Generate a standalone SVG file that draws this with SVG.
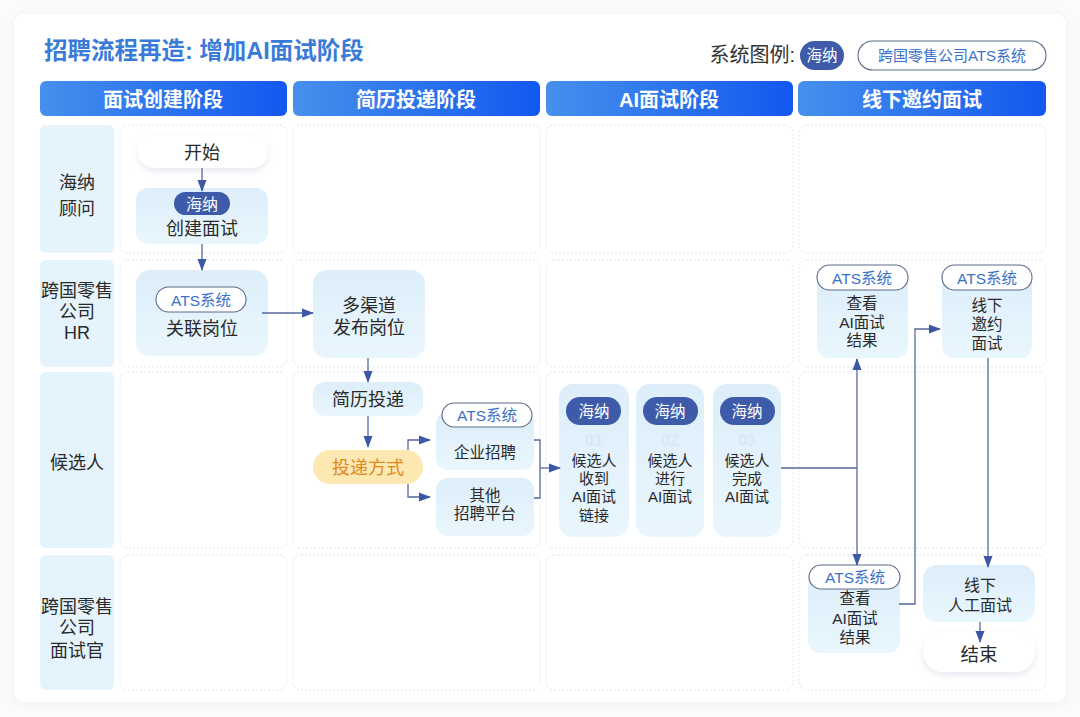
<svg xmlns="http://www.w3.org/2000/svg" width="1080" height="717" viewBox="0 0 1080 717">
<defs>
<style>
.t{font-family:"Liberation Sans","Noto Sans CJK SC",sans-serif;fill:#2a2a2a;text-anchor:middle}
.n{font-size:18px}
.s{font-size:15.5px}
.x{font-size:15px}
.lane{font-size:18px}
.hd{font-size:20px;font-weight:bold;fill:#ffffff}
.bh{font-size:16px;fill:#ffffff}
.bhs{font-size:15.5px;fill:#ffffff}
.ba{font-size:15.5px;fill:#3b72c9}
.num{font-size:16px;font-weight:bold;fill:#dce8f3}
.cell{fill:#ffffff;stroke:#dfe5ee;stroke-width:1;stroke-dasharray:2 2}
.lc{fill:#e4f3fc}
.node{fill:url(#ng)}
.hn{fill:#3e5ba9}
.ats{fill:#ffffff;stroke:#5d6c8c;stroke-width:1.1}
.wp{fill:#ffffff;filter:url(#sh)}
.c{fill:none;stroke:#56679f;stroke-width:1.3}
</style>
<linearGradient id="hg" x1="0" y1="0" x2="1" y2="0">
<stop offset="0" stop-color="#4690ec"/>
<stop offset="1" stop-color="#1358ef"/>
</linearGradient>
<linearGradient id="ng" x1="0" y1="0" x2="0" y2="1">
<stop offset="0" stop-color="#ddeefa"/>
<stop offset="1" stop-color="#e9f6fd"/>
</linearGradient>
<filter id="sh" x="-20%" y="-30%" width="140%" height="170%">
<feDropShadow dx="0" dy="3" stdDeviation="3" flood-color="#9aa8c0" flood-opacity="0.25"/>
</filter>
<filter id="cs" x="-5%" y="-5%" width="110%" height="110%">
<feDropShadow dx="0" dy="1" stdDeviation="4" flood-color="#a8b4c8" flood-opacity="0.2"/>
</filter>
<marker id="ar" viewBox="0 0 12 10" refX="11" refY="5" markerWidth="12" markerHeight="10" markerUnits="userSpaceOnUse" orient="auto">
<path d="M0,0.5 L12,5 L0,9.5 Z" fill="#3d57a6"/>
</marker>
</defs>
<rect x="0" y="0" width="1080" height="717" fill="#fafbfc"/>
<rect x="14" y="14" width="1052" height="688" rx="10" fill="#ffffff" filter="url(#cs)"/>

<g id="title">
<text x="44" y="59" style="font-family:'Liberation Sans','Noto Sans CJK SC',sans-serif;font-size:23.5px;font-weight:bold;fill:#3a7bd8">招聘流程再造: 增加AI面试阶段</text>
</g>
<g id="legend">
<text x="795" y="62" class="t" style="font-size:20px;text-anchor:end;fill:#333">系统图例:</text>
<rect x="800" y="41" width="44" height="29" rx="14.5" class="hn"/>
<text x="822" y="61" class="t bhs">海纳</text>
<rect x="858" y="41" width="188" height="29" rx="14.5" class="ats"/>
<text x="952" y="61" class="t ba" style="font-size:15px">跨国零售公司ATS系统</text>
</g>

<g id="headers">
<rect x="40" y="81" width="247" height="35" rx="6" fill="url(#hg)"/>
<text x="163" y="107" class="t hd">面试创建阶段</text>
<rect x="293" y="81" width="247" height="35" rx="6" fill="url(#hg)"/>
<text x="416" y="107" class="t hd">简历投递阶段</text>
<rect x="546" y="81" width="247" height="35" rx="6" fill="url(#hg)"/>
<text x="669" y="107" class="t hd">AI面试阶段</text>
<rect x="798" y="81" width="248" height="35" rx="6" fill="url(#hg)"/>
<text x="922" y="107" class="t hd">线下邀约面试</text>
</g>

<g id="lanes">
<rect x="40" y="125" width="74" height="128" rx="6" class="lc"/>
<text class="t lane"><tspan x="77" y="189">海纳</tspan><tspan x="77" y="215">顾问</tspan></text>
<rect x="40" y="260" width="74" height="107" rx="6" class="lc"/>
<text class="t lane"><tspan x="77" y="297">跨国零售</tspan><tspan x="77" y="318">公司</tspan><tspan x="77" y="339">HR</tspan></text>
<rect x="40" y="372" width="74" height="176" rx="6" class="lc"/>
<text x="77" y="469" class="t lane">候选人</text>
<rect x="40" y="555" width="74" height="135" rx="6" class="lc"/>
<text class="t lane"><tspan x="77" y="613">跨国零售</tspan><tspan x="77" y="634">公司</tspan><tspan x="77" y="657">面试官</tspan></text>
</g>

<g id="cells">
<rect x="120" y="125" width="167" height="128" rx="8" class="cell"/>
<rect x="293" y="125" width="247" height="128" rx="8" class="cell"/>
<rect x="546" y="125" width="247" height="128" rx="8" class="cell"/>
<rect x="799" y="125" width="247" height="128" rx="8" class="cell"/>
<rect x="120" y="260" width="167" height="107" rx="8" class="cell"/>
<rect x="293" y="260" width="247" height="107" rx="8" class="cell"/>
<rect x="546" y="260" width="247" height="107" rx="8" class="cell"/>
<rect x="799" y="260" width="247" height="107" rx="8" class="cell"/>
<rect x="120" y="372" width="167" height="176" rx="8" class="cell"/>
<rect x="293" y="372" width="247" height="176" rx="8" class="cell"/>
<rect x="546" y="372" width="247" height="176" rx="8" class="cell"/>
<rect x="799" y="372" width="247" height="176" rx="8" class="cell"/>
<rect x="120" y="555" width="167" height="135" rx="8" class="cell"/>
<rect x="293" y="555" width="247" height="135" rx="8" class="cell"/>
<rect x="546" y="555" width="247" height="135" rx="8" class="cell"/>
<rect x="799" y="555" width="247" height="135" rx="8" class="cell"/>
</g>

<g id="n-start">
<rect x="138" y="136" width="130" height="32" rx="16" class="wp"/>
<text x="202" y="158.5" class="t n">开始</text>
</g>
<g id="n-create">
<rect x="136" y="188" width="132" height="56" rx="12" class="node"/>
<rect x="174" y="192" width="56" height="23" rx="11.5" class="hn"/>
<text x="202" y="209.5" class="t bh">海纳</text>
<text x="202" y="234.5" class="t n">创建面试</text>
</g>
<g id="n-link">
<rect x="136" y="270" width="132" height="86" rx="14" class="node"/>
<rect x="156" y="287" width="90" height="25" rx="12.5" class="ats"/>
<text x="201" y="305.5" class="t ba">ATS系统</text>
<text x="202" y="334.5" class="t n">关联岗位</text>
</g>
<g id="n-publish">
<rect x="313" y="270" width="112" height="88" rx="14" class="node"/>
<text class="t n"><tspan x="369" y="311.5">多渠道</tspan><tspan x="369" y="333.5">发布岗位</tspan></text>
</g>
<g id="n-resume">
<rect x="313" y="382" width="110" height="34" rx="12" class="node"/>
<text x="368" y="406" class="t n">简历投递</text>
</g>
<g id="n-way">
<rect x="313" y="450" width="110" height="34" rx="17" fill="#fde8b2"/>
<text x="368" y="474" class="t n" style="fill:#e0891c">投递方式</text>
</g>
<g id="n-corp">
<rect x="436" y="412" width="98" height="58" rx="12" class="node"/>
<rect x="442" y="403" width="90" height="24" rx="12" class="ats"/>
<text x="487" y="420.5" class="t ba">ATS系统</text>
<text x="485" y="457.5" class="t s">企业招聘</text>
</g>
<g id="n-other">
<rect x="436" y="478" width="98" height="58" rx="12" class="node"/>
<text class="t s"><tspan x="485" y="500.5">其他</tspan><tspan x="485" y="519">招聘平台</tspan></text>
</g>
<g id="n-ai1">
<rect x="559" y="384" width="70" height="153" rx="14" class="node"/>
<rect x="566" y="397" width="55" height="28" rx="14" class="hn"/>
<text x="594" y="416.5" class="t bhs">海纳</text>
<text class="t x"><tspan x="594" y="446" class="num">01</tspan><tspan x="594" y="466">候选人</tspan><tspan x="594" y="484">收到</tspan><tspan x="594" y="502">AI面试</tspan><tspan x="594" y="521">链接</tspan></text>
</g>
<g id="n-ai2">
<rect x="636" y="384" width="68" height="153" rx="14" class="node"/>
<rect x="643" y="397" width="55" height="28" rx="14" class="hn"/>
<text x="670" y="416.5" class="t bhs">海纳</text>
<text class="t x"><tspan x="670" y="446" class="num">02</tspan><tspan x="670" y="466">候选人</tspan><tspan x="670" y="484">进行</tspan><tspan x="670" y="502">AI面试</tspan></text>
</g>
<g id="n-ai3">
<rect x="713" y="384" width="68" height="153" rx="14" class="node"/>
<rect x="720" y="397" width="55" height="28" rx="14" class="hn"/>
<text x="747" y="416.5" class="t bhs">海纳</text>
<text class="t x"><tspan x="747" y="446" class="num">03</tspan><tspan x="747" y="466">候选人</tspan><tspan x="747" y="484">完成</tspan><tspan x="747" y="502">AI面试</tspan></text>
</g>
<g id="n-view-hr">
<rect x="817" y="272" width="91" height="86" rx="12" class="node"/>
<rect x="817" y="265" width="91" height="25" rx="12.5" class="ats"/>
<text x="862" y="283.5" class="t ba">ATS系统</text>
<text class="t s"><tspan x="862" y="309">查看</tspan><tspan x="862" y="328">AI面试</tspan><tspan x="862" y="346">结果</tspan></text>
</g>
<g id="n-invite">
<rect x="942" y="272" width="90" height="86" rx="12" class="node"/>
<rect x="942" y="265" width="90" height="25" rx="12.5" class="ats"/>
<text x="987" y="283.5" class="t ba">ATS系统</text>
<text class="t s"><tspan x="987" y="311">线下</tspan><tspan x="987" y="330">邀约</tspan><tspan x="987" y="349">面试</tspan></text>
</g>
<g id="n-view-int">
<rect x="808" y="573" width="92" height="80" rx="12" class="node"/>
<rect x="809" y="565" width="91" height="24" rx="12" class="ats"/>
<text x="855" y="583" class="t ba">ATS系统</text>
<text class="t s"><tspan x="855" y="604">查看</tspan><tspan x="855" y="624">AI面试</tspan><tspan x="855" y="643">结果</tspan></text>
</g>
<g id="n-offline">
<rect x="923" y="565" width="112" height="57" rx="14" class="node"/>
<text class="t s" style="font-size:16px"><tspan x="980" y="591">线下</tspan><tspan x="980" y="611">人工面试</tspan></text>
</g>
<g id="n-end">
<rect x="923" y="632" width="112" height="40" rx="20" class="wp"/>
<text x="979" y="661" class="t" style="font-size:18.5px">结束</text>
</g>

<g id="connectors">
<path d="M202,168 V191" class="c" marker-end="url(#ar)"/>
<path d="M202,244 V270" class="c" marker-end="url(#ar)"/>
<path d="M262,313 H313" class="c" marker-end="url(#ar)"/>
<path d="M368,358 V382" class="c" marker-end="url(#ar)"/>
<path d="M368,416 V447" class="c" marker-end="url(#ar)"/>
<path d="M408,450 V440 H430" class="c" marker-end="url(#ar)"/>
<path d="M408,484 V497 H430" class="c" marker-end="url(#ar)"/>
<path d="M534,440 H540 V498 H534" class="c"/>
<path d="M540,468 H560" class="c" marker-end="url(#ar)"/>
<path d="M781,468 H857" class="c"/>
<path d="M857,468 V359" class="c" marker-end="url(#ar)"/>
<path d="M857,468 V565" class="c" marker-end="url(#ar)"/>
<path d="M899,604 H915 V329 H940" class="c" marker-end="url(#ar)"/>
<path d="M988,358 V567" class="c" marker-end="url(#ar)"/>
<path d="M980,622 V642" class="c" marker-end="url(#ar)"/>
</g>
</svg>
